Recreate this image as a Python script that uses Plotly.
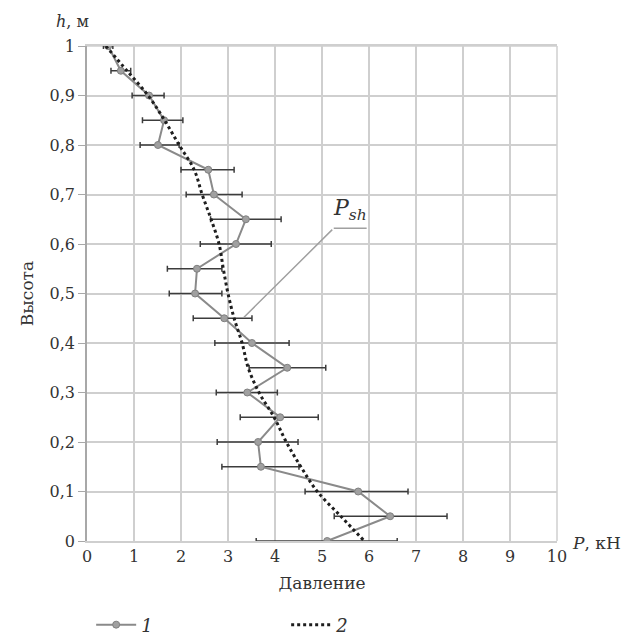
import plotly.graph_objects as go

# Data
heights = [1.0, 0.95, 0.9, 0.85, 0.8, 0.75, 0.7, 0.65, 0.6, 0.55, 0.5,
           0.45, 0.4, 0.35, 0.3, 0.25, 0.2, 0.15, 0.1, 0.05, 0.0]
pressure_1 = [0.45, 0.72, 1.32, 1.64, 1.51, 2.58, 2.70, 3.38, 3.17, 2.34, 2.30,
              2.92, 3.51, 4.26, 3.41, 4.11, 3.64, 3.70, 5.77, 6.45, 5.11]
lower_1 = [0.35, 0.51, 0.96, 1.18, 1.13, 2.00, 2.11, 2.63, 2.41, 1.71, 1.75,
           2.26, 2.72, 3.45, 2.75, 3.26, 2.77, 2.87, 4.64, 5.26, 3.60]
upper_1 = [0.55, 0.93, 1.64, 2.04, 1.96, 3.13, 3.30, 4.13, 3.92, 2.87, 2.87,
           3.51, 4.30, 5.08, 4.05, 4.92, 4.49, 4.51, 6.83, 7.66, 6.60]
pressure_2 = [0.40, 0.85, 1.30, 1.65, 1.96, 2.28, 2.45, 2.64, 2.81, 2.90, 3.00,
              3.13, 3.30, 3.43, 3.66, 3.98, 4.24, 4.55, 4.90, 5.40, 5.90]
x_ticks = [0, 1, 2, 3, 4, 5, 6, 7, 8, 9, 10]
y_ticks = [0, 0.1, 0.2, 0.3, 0.4, 0.5, 0.6, 0.7, 0.8, 0.9, 1.0]
y_ticktext = ["0", "0,1", "0,2", "0,3", "0,4", "0,5", "0,6", "0,7", "0,8", "0,9", "1"]

# callout: label anchor and pointer end (data coords)
callout_label = (5.25, 0.632)
callout_end = (3.34, 0.452)
callout_bar_end = 5.95

err_plus = [u - p for u, p in zip(upper_1, pressure_1)]
err_minus = [p - l for p, l in zip(pressure_1, lower_1)]

FONT = "DejaVu Serif"
GRID = "#cfcfcf"
TXT = "#333333"

fig = go.Figure()
fig.add_trace(go.Scatter(
    x=pressure_1, y=heights, mode="lines+markers", name="<i>1</i>",
    line=dict(color="#8a8a8a", width=2),
    marker=dict(size=7, color="#a0a0a0", line=dict(color="#808080", width=1)),
    error_x=dict(type="data", array=err_plus, arrayminus=err_minus,
                 color="#3c3c3c", thickness=1.5, width=3),
))
fig.add_trace(go.Scatter(
    x=pressure_2, y=heights, mode="lines", name="<i>2</i>",
    line=dict(color="#1e1e1e", width=3, dash="dot", shape="spline"),
))

fig.add_annotation(
    x=callout_end[0], y=callout_end[1], ax=callout_label[0], ay=callout_label[1],
    axref="x", ayref="y", xref="x", yref="y", text="", showarrow=True,
    arrowhead=0, arrowwidth=1.5, arrowcolor="#a0a0a0")
fig.add_shape(type="line", xref="x", yref="y",
              x0=callout_label[0], x1=callout_bar_end,
              y0=callout_label[1], y1=callout_label[1],
              line=dict(color="#a0a0a0", width=1.5))
fig.add_annotation(x=callout_label[0] - 0.05, y=callout_label[1] + 0.004, xref="x", yref="y",
                   text="<i>P<sub>sh</sub></i>", showarrow=False,
                   xanchor="left", yanchor="bottom",
                   font=dict(family=FONT, size=22, color=TXT))

fig.add_annotation(x=0.0, y=1.0, xref="paper", yref="paper", text="<i>h</i>, м",
                   showarrow=False, xanchor="center", yanchor="bottom", yshift=13, xshift=-15,
                   font=dict(family=FONT, size=16, color=TXT))
fig.add_annotation(x=1.0, y=0.0, xref="paper", yref="paper", text="<i>P</i>, кН",
                   showarrow=False, xanchor="left", yanchor="middle", xshift=13, yshift=-2,
                   font=dict(family=FONT, size=17, color=TXT))

fig.update_layout(
    width=630, height=627,
    margin=dict(l=79, r=81, t=38, b=94, autoexpand=False),
    paper_bgcolor="white", plot_bgcolor="white",
    font=dict(family=FONT, size=16, color=TXT),
    showlegend=True,
    legend=dict(orientation="h", xref="container", yref="container",
                x=0.132, y=0.016, xanchor="left", yanchor="middle",
                entrywidth=140, font=dict(family=FONT, size=18, color=TXT),
                itemwidth=40),
    xaxis=dict(range=[0, 10], tickvals=x_ticks, showgrid=True, gridcolor=GRID, gridwidth=1.5,
               zeroline=False, showline=True, linecolor=GRID, linewidth=1.5, mirror=True,
               ticks="", automargin=False,
               title=dict(text="Давление", standoff=12, font=dict(family=FONT, size=17))),
    yaxis=dict(range=[0, 1], tickvals=y_ticks, ticktext=y_ticktext, showgrid=True,
               gridcolor=GRID, gridwidth=1.5, zeroline=False, showline=True,
               linecolor="#a8a8a8", linewidth=1.5, mirror=False,
               ticks="outside", ticklen=7, tickcolor="#a8a8a8", automargin=False,
               title=dict(text="Высота", standoff=12, font=dict(family=FONT, size=17))),
)
fig.add_shape(type="line", xref="paper", yref="paper", x0=0, x1=1, y0=1, y1=1,
              line=dict(color=GRID, width=1.5), layer="below")
fig.add_shape(type="line", xref="paper", yref="paper", x0=1, x1=1, y0=0, y1=1,
              line=dict(color=GRID, width=1.5), layer="below")

fig.write_html("out.html")
